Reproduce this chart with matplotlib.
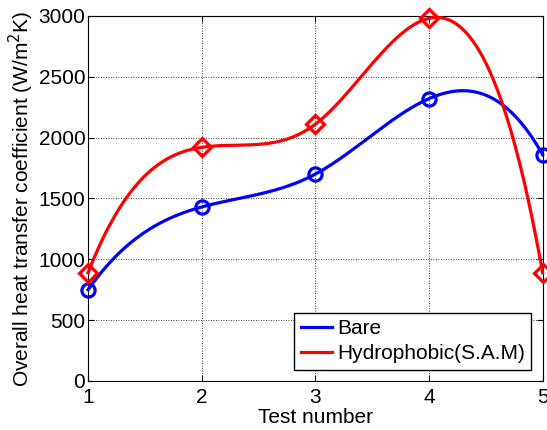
import numpy as np
import matplotlib
matplotlib.use("Agg")
import matplotlib.pyplot as plt

tests = [1, 2, 3, 4, 5]
bare = [750, 1430, 1700, 2320, 1860]
hydrophobic = [890, 1920, 2110, 2980, 890]
xticks = [1, 2, 3, 4, 5]
yticks = [0, 500, 1000, 1500, 2000, 2500, 3000]


def notaknot_spline(x, y, xs):
    x = np.asarray(x, float); y = np.asarray(y, float)
    n = len(x)
    h = np.diff(x)
    A = np.zeros((n, n)); b = np.zeros(n)
    A[0, 0] = -h[1]; A[0, 1] = h[0] + h[1]; A[0, 2] = -h[0]
    A[-1, -3] = -h[-1]; A[-1, -2] = h[-2] + h[-1]; A[-1, -1] = -h[-2]
    for i in range(1, n - 1):
        A[i, i - 1] = h[i - 1]; A[i, i] = 2 * (h[i - 1] + h[i]); A[i, i + 1] = h[i]
        b[i] = 6 * ((y[i + 1] - y[i]) / h[i] - (y[i] - y[i - 1]) / h[i - 1])
    M = np.linalg.solve(A, b)
    out = np.empty_like(xs)
    for k, t in enumerate(xs):
        i = min(np.searchsorted(x, t, side='right') - 1, n - 2)
        i = max(i, 0)
        a = x[i + 1] - t; c = t - x[i]; hi = h[i]
        out[k] = (M[i] * a**3 + M[i + 1] * c**3) / (6 * hi) + \
                 (y[i] / hi - M[i] * hi / 6) * a + (y[i + 1] / hi - M[i + 1] * hi / 6) * c
    return out


plt.rcParams['font.family'] = ['Liberation Sans', 'DejaVu Sans']
fs = 15
fig = plt.figure(figsize=(5.47, 4.30), dpi=100)
ax = fig.add_axes([0.161, 0.114, 0.831, 0.849])

xs = np.linspace(1, 5, 400)
ax.plot(xs, notaknot_spline(tests, bare, xs), color='#0000ff', lw=2.3, label='Bare', clip_on=False, zorder=3)
ax.plot(xs, notaknot_spline(tests, hydrophobic, xs), color='#ff0000', lw=2.3, label='Hydrophobic(S.A.M)', clip_on=False, zorder=3)
ax.plot(tests, bare, 'o', ms=9.5, mfc='none', mec='#0000ff', mew=2.3, clip_on=False, zorder=4)
ax.plot(tests, hydrophobic, 'D', ms=9, mfc='none', mec='#ff0000', mew=2.3, clip_on=False, zorder=4)

ax.set_xlim(1, 5)
ax.set_ylim(0, 3000)
ax.set_xticks(xticks)
ax.set_yticks(yticks)
ax.grid(True, color='black', linestyle=(0, (1, 2)), linewidth=0.6)
ax.tick_params(direction='in', labelsize=fs, length=4, top=True, right=True, pad=2)
ax.tick_params(axis='x', pad=5)
for s in ax.spines.values():
    s.set_linewidth(0.8)
ax.set_xlabel('Test number', fontsize=fs, labelpad=1)
ax.set_ylabel('Overall heat transfer coefficient (W/m$^2$K)', fontsize=fs, labelpad=2)

leg = ax.legend(loc='lower right', fontsize=fs, fancybox=False, edgecolor='black',
                framealpha=1, borderaxespad=0.55, handlelength=1.5, handletextpad=0.25,
                borderpad=0.3, labelspacing=0.3)
leg.get_frame().set_linewidth(1.0)

fig.savefig('out.png', dpi=100)
